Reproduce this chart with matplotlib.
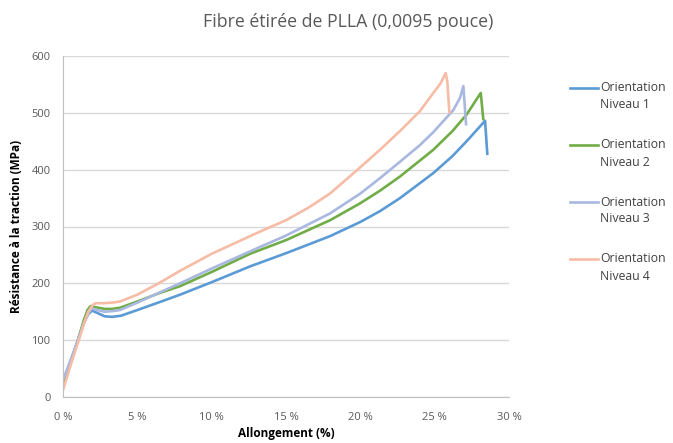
import matplotlib.pyplot as plt
from matplotlib.lines import Line2D
from matplotlib.ticker import FuncFormatter

# strain (%) and stress (MPa)
x_n1 = [0, 0.5, 1.0, 1.4, 1.7, 1.95, 2.3, 2.8, 3.3, 3.9, 5, 6.5, 7.87, 10, 12.6, 15,
        17.96, 20, 21.32, 22.67, 24.91, 26.2, 27.15, 28.39, 28.54]
y_n1 = [26, 62, 100, 130, 146, 152, 148, 142, 141, 143, 153, 167, 180, 202, 230, 253,
        283, 308, 327, 350, 394, 424, 450, 486, 428]

x_n2 = [0, 0.5, 1.0, 1.4, 1.65, 1.85, 2.2, 2.8, 3.3, 3.83, 5, 6.5, 7.87, 10, 12.58, 15,
        17.96, 20, 21.32, 22.67, 24.91, 26.2, 27.15, 28.1, 28.27]
y_n2 = [20, 60, 100, 135, 153, 160, 158, 155, 155, 157, 168, 183, 195, 220, 252, 276,
        311, 341, 363, 388, 435, 468, 497, 535, 489]

x_n3 = [0, 0.5, 1.0, 1.4, 1.7, 1.95, 2.3, 2.8, 3.3, 3.83, 5, 6.5, 7.87, 10, 13.25, 15,
        17.96, 20, 21.32, 22.67, 24.0, 24.91, 26.26, 26.7, 26.93, 27.11]
y_n3 = [30, 64, 100, 130, 148, 156, 153, 150, 151, 153, 166, 184, 200, 226, 264, 284,
        323, 358, 385, 414, 443, 466, 505, 526, 547, 480]

x_n4 = [0, 0.5, 1.0, 1.4, 1.7, 2.0, 2.2, 2.7, 3.3, 3.83, 5, 6.5, 7.87, 10, 13.25, 15,
        16.5, 17.96, 19.64, 21.32, 22.67, 24.01, 24.91, 25.4, 25.74, 25.85, 25.99]
y_n4 = [12, 55, 95, 128, 150, 162, 165, 165, 166, 168, 180, 201, 222, 252, 291, 311,
        333, 358, 396, 435, 468, 503, 535, 552, 570, 555, 501]

series = [
    (x_n1, y_n1, "Orientation\nNiveau 1", "#5b9bd5"),
    (x_n2, y_n2, "Orientation\nNiveau 2", "#70ad47"),
    (x_n3, y_n3, "Orientation\nNiveau 3", "#a9b8e0"),
    (x_n4, y_n4, "Orientation\nNiveau 4", "#f6bca5"),
]

plt.rcParams['font.family'] = ['Open Sans', 'DejaVu Sans']
grey = "#595959"
W, H = 673, 443

fig = plt.figure(figsize=(W / 100, H / 100), dpi=100)
ax = fig.add_axes([63 / W, 46 / H, 446 / W, 341 / H])

for xs, ys, lab, col in series:
    ax.plot(xs, ys, color=col, lw=1.9, solid_joinstyle='round')

ax.set_xlim(0, 30)
ax.set_ylim(0, 600)
ax.set_xticks(range(0, 31, 5))
ax.set_yticks(range(0, 601, 100))
ax.xaxis.set_major_formatter(FuncFormatter(lambda v, p: f"{int(v)} %"))
ax.grid(axis='y', color="#d9d9d9", lw=1)
ax.set_axisbelow(True)
ax.tick_params(length=0, labelsize=8, labelcolor=grey)
ax.tick_params(axis='x', pad=11)
ax.tick_params(axis='y', pad=9)
for s in ['top', 'right']:
    ax.spines[s].set_visible(False)
for s in ['left', 'bottom']:
    ax.spines[s].set_color("#bfbfbf")

ax.set_xlabel("Allongement (%)", fontsize=8.5, fontweight='bold', labelpad=3)
ax.set_ylabel("Résistance à la traction (MPa)", fontsize=8.5, fontweight='bold', labelpad=6)

fig.text(348 / W, 1 - 22 / H, "Fibre étirée de PLLA (0,0095 pouce)",
         fontsize=12.8, color=grey, ha='center', va='center')

# legend: handle lined up with the first text line, like Excel
for i, (xs, ys, lab, col) in enumerate(series):
    yy = 1 - (88 + 57 * i) / H
    fig.add_artist(Line2D([570 / W, 598 / W], [yy, yy], color=col, lw=1.9,
                          transform=fig.transFigure))
    fig.text(600 / W, yy, lab.split("\n")[0], fontsize=8.8, color="#404040", va='center')
    fig.text(600 / W, yy - 17 / H, lab.split("\n")[1], fontsize=8.8, color="#404040",
             va='center')

fig.savefig("out.png", dpi=100)
